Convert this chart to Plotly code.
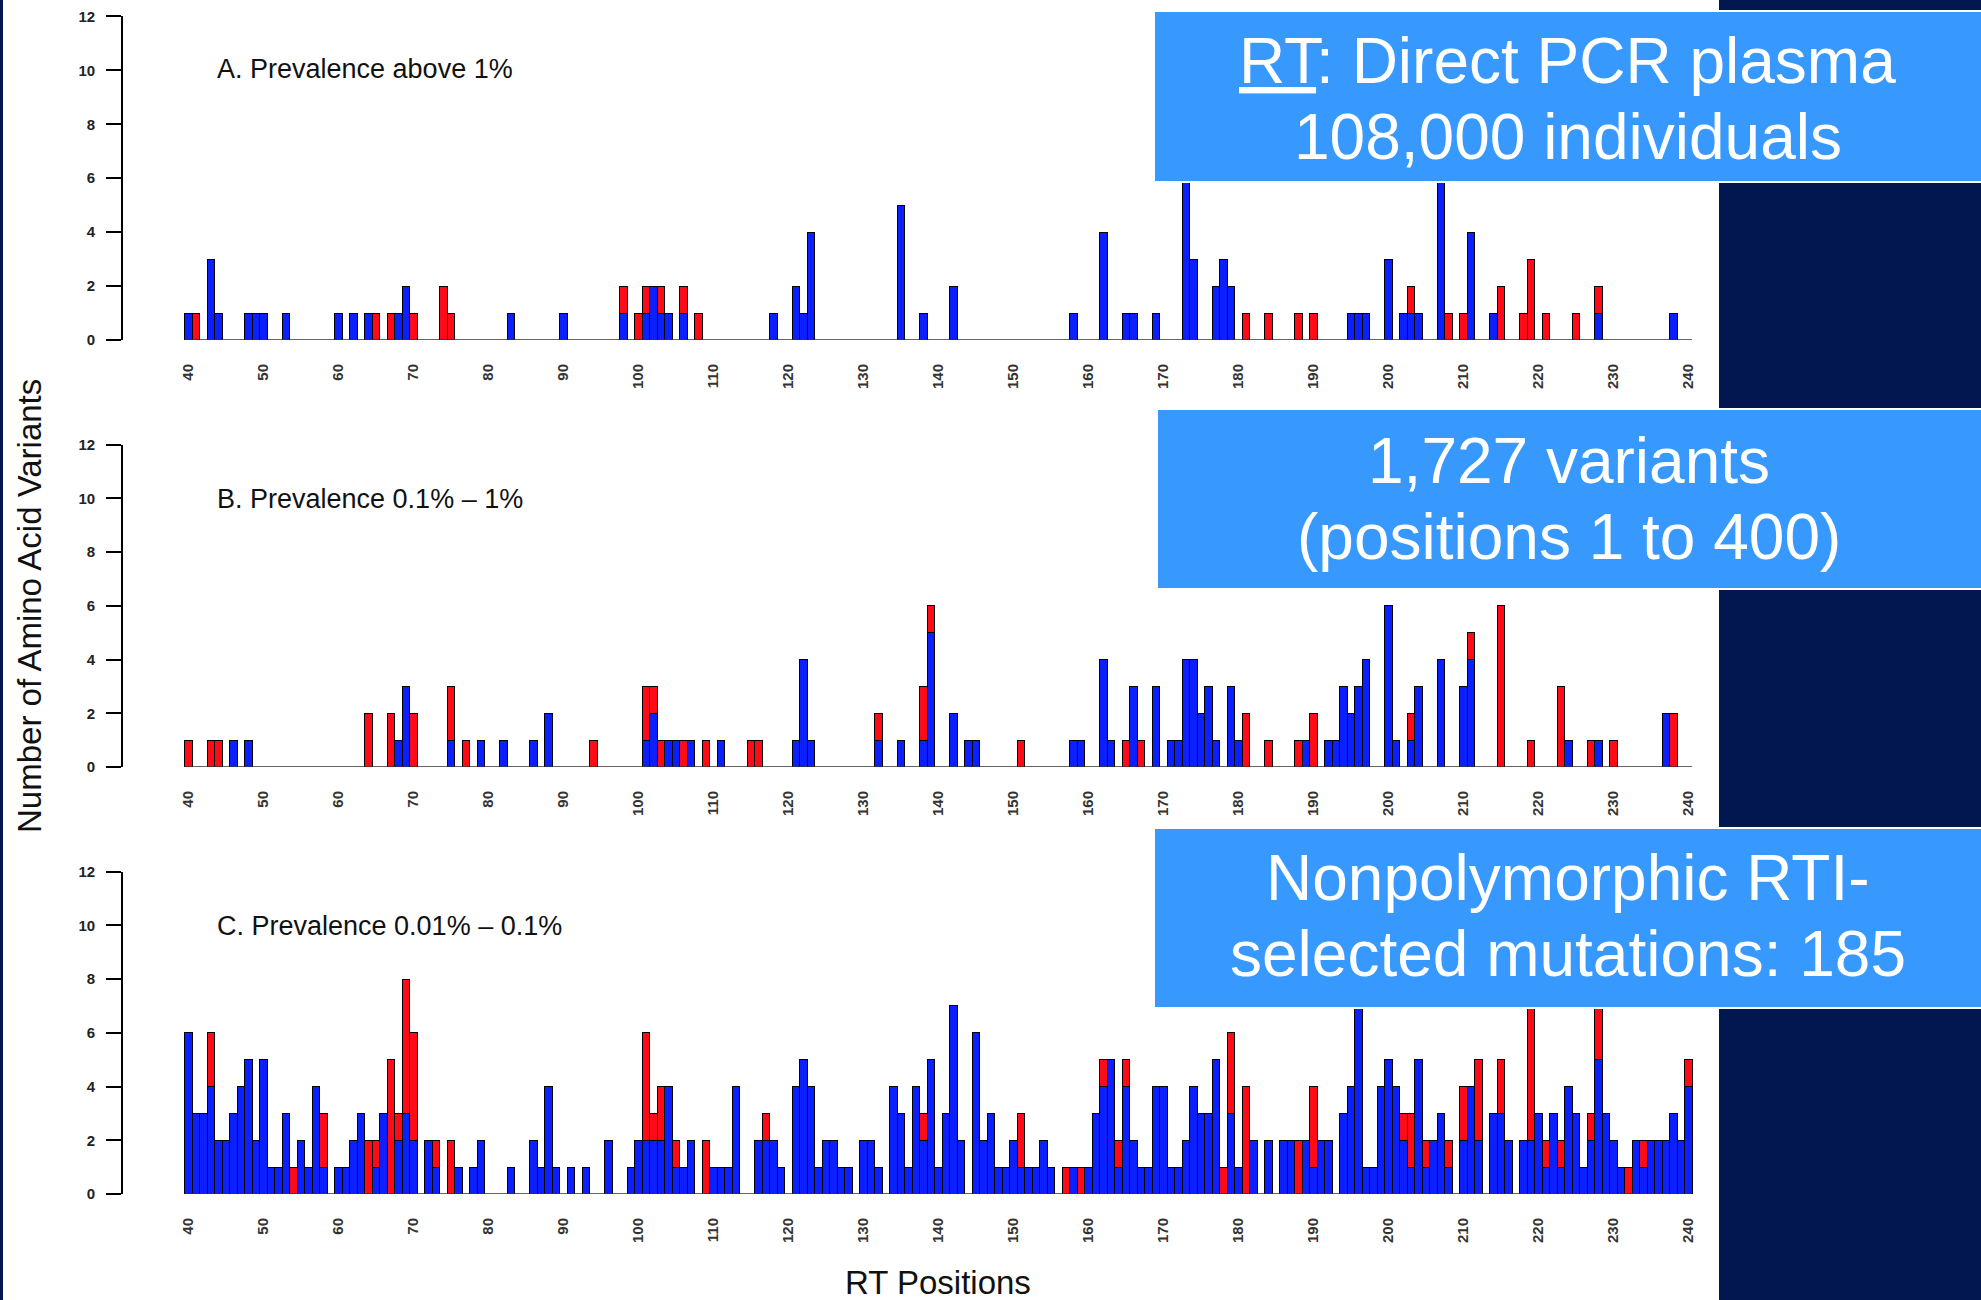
import plotly.graph_objects as go

W, H = 1981, 1300

# ---------------- data (counts of amino-acid variants per RT position) ----------------
positions_ticks = list(range(40, 241, 10))
y_ticks = [0, 2, 4, 6, 8, 10, 12]

panel_titles = ["A. Prevalence above 1%", "B. Prevalence 0.1% \u2013 1%", "C. Prevalence 0.01% \u2013 0.1%"]

A_blue = {40: 1, 43: 3, 44: 1, 48: 1, 49: 1, 50: 1, 53: 1, 60: 1, 62: 1, 64: 1, 68: 1, 69: 2,
          83: 1, 90: 1, 98: 1, 101: 1, 102: 2, 103: 1, 104: 1, 106: 1, 118: 1, 121: 2, 122: 1,
          123: 4, 135: 5, 138: 1, 142: 2, 158: 1, 162: 4, 165: 1, 166: 1, 169: 1, 173: 6, 174: 3,
          177: 2, 178: 3, 179: 2, 195: 1, 196: 1, 197: 1, 200: 3, 202: 1, 203: 1, 204: 1, 207: 6,
          211: 4, 214: 1, 228: 1, 238: 1}
A_red = {41: 1, 65: 1, 67: 1, 70: 1, 74: 2, 75: 1, 98: 1, 100: 1, 101: 1, 103: 1, 106: 1, 108: 1,
         181: 1, 184: 1, 188: 1, 190: 1, 203: 1, 208: 1, 210: 1, 215: 2, 218: 1, 219: 3, 221: 1,
         225: 1, 228: 1}

B_blue = {46: 1, 48: 1, 68: 1, 69: 3, 75: 1, 79: 1, 82: 1, 86: 1, 88: 2, 101: 1, 102: 2, 104: 1,
          105: 1, 107: 1, 111: 1, 121: 1, 122: 4, 123: 1, 132: 1, 135: 1, 138: 1, 139: 5, 142: 2,
          144: 1, 145: 1, 158: 1, 159: 1, 162: 4, 163: 1, 166: 3, 169: 3, 171: 1, 172: 1, 173: 4,
          174: 4, 175: 2, 176: 3, 177: 1, 179: 3, 180: 1, 189: 1, 192: 1, 193: 1, 194: 3, 195: 2,
          196: 3, 197: 4, 200: 6, 201: 1, 203: 1, 204: 3, 207: 4, 210: 3, 211: 4, 224: 1, 228: 1,
          237: 2}
B_red = {40: 1, 43: 1, 44: 1, 64: 2, 67: 2, 70: 2, 75: 2, 77: 1, 94: 1, 101: 2, 102: 1, 103: 1,
         106: 1, 109: 1, 115: 1, 116: 1, 132: 1, 138: 2, 139: 1, 151: 1, 165: 1, 167: 1, 181: 2,
         184: 1, 188: 1, 190: 2, 203: 1, 211: 1, 215: 6, 219: 1, 223: 3, 227: 1, 230: 1, 238: 2}

C_blue = {40: 6, 41: 3, 42: 3, 43: 4, 44: 2, 45: 2, 46: 3, 47: 4, 48: 5, 49: 2, 50: 5, 51: 1,
          52: 1, 53: 3, 55: 2, 56: 1, 57: 4, 58: 1, 60: 1, 61: 1, 62: 2, 63: 3, 65: 1, 66: 3,
          68: 2, 69: 3, 70: 2, 72: 2, 73: 1, 76: 1, 78: 1, 79: 2, 83: 1, 86: 2, 87: 1, 88: 4,
          89: 1, 91: 1, 93: 1, 96: 2, 99: 1, 100: 2, 101: 2, 102: 2, 103: 2, 104: 4, 105: 1,
          106: 1, 107: 2, 110: 1, 111: 1, 112: 1, 113: 4, 116: 2, 117: 2, 118: 2, 119: 1, 121: 4,
          122: 5, 123: 4, 124: 1, 125: 2, 126: 2, 127: 1, 128: 1, 130: 2, 131: 2, 132: 1, 134: 4,
          135: 3, 136: 1, 137: 4, 138: 2, 139: 5, 140: 1, 141: 3, 142: 7, 143: 2, 145: 6, 146: 2,
          147: 3, 148: 1, 149: 1, 150: 2, 151: 1, 152: 1, 153: 1, 154: 2, 155: 1, 158: 1, 160: 1,
          161: 3, 162: 4, 163: 5, 164: 1, 165: 4, 166: 2, 167: 1, 168: 1, 169: 4, 170: 4, 171: 1,
          172: 1, 173: 2, 174: 4, 175: 3, 176: 3, 177: 5, 179: 3, 180: 1, 182: 2, 184: 2, 186: 2,
          187: 2, 189: 2, 190: 1, 191: 2, 192: 2, 194: 3, 195: 4, 196: 7, 197: 1, 198: 1, 199: 4,
          200: 5, 201: 4, 202: 2, 203: 1, 204: 5, 205: 1, 206: 2, 207: 3, 208: 1, 210: 2, 211: 4,
          212: 2, 214: 3, 215: 3, 216: 2, 218: 2, 219: 2, 220: 3, 221: 1, 222: 3, 223: 1, 224: 4,
          225: 3, 226: 1, 227: 2, 228: 5, 229: 3, 230: 2, 231: 1, 233: 2, 234: 1, 235: 2, 236: 2,
          237: 2, 238: 3, 239: 2, 240: 4}
C_red = {43: 2, 54: 1, 58: 2, 64: 2, 65: 1, 67: 5, 68: 1, 69: 5, 70: 4, 73: 1, 75: 2, 101: 4,
         102: 1, 103: 2, 105: 1, 109: 2, 117: 1, 138: 1, 151: 2, 157: 1, 159: 1, 162: 1, 164: 1,
         165: 1, 178: 1, 179: 3, 181: 4, 188: 2, 190: 3, 202: 1, 203: 2, 205: 1, 208: 1, 210: 2,
         212: 3, 215: 2, 219: 5, 221: 1, 223: 1, 227: 1, 228: 2, 232: 1, 234: 1, 240: 1}

box_texts = [["<u>RT</u>: Direct PCR plasma", "108,000 individuals"],
             ["1,727 variants", "(positions 1 to 400)"],
             ["Nonpolymorphic RTI-", "selected mutations: 185"]]

# ---------------- layout constants (pixels) ----------------
FONT = "Liberation Sans, Arial, Helvetica, sans-serif"
BLUE = "#0b1fff"
RED = "#ff0a17"
NAVY = "#021650"
BOXBLUE = "#3799fe"

X_LEFT, X_RIGHT = 123, 1700
PX_PER_POS = 7.5
POS40_PX = 188.3
r0 = 40 - (POS40_PX - X_LEFT) / PX_PER_POS
r1 = r0 + (X_RIGHT - X_LEFT) / PX_PER_POS

panel_px = [(340, 16.4, 69.5), (767, 444.7, 499), (1194, 871.7, 926)]  # (y of 0, y of 12, title y)
box_px = [(1154, 11, 182, (61, 137)), (1157, 409, 589, (461, 537)), (1154, 828, 1008, (878, 954))]


def fx(p):
    return p / W


def fy(p):
    return 1 - p / H


fig = go.Figure()
layout = dict(width=W, height=H, margin=dict(l=0, r=0, t=0, b=0, pad=0, autoexpand=False),
              paper_bgcolor="white", plot_bgcolor="rgba(0,0,0,0)",
              barmode="stack", showlegend=False, font=dict(family=FONT, color="#111"))
shapes = []
annotations = []

series = [(A_blue, A_red), (B_blue, B_red), (C_blue, C_red)]
for i, ((blue, red), (y0, y12, ty), title) in enumerate(zip(series, panel_px, panel_titles), start=1):
    xa = "x" if i == 1 else f"x{i}"
    ya = "y" if i == 1 else f"y{i}"
    for data, col in ((blue, BLUE), (red, RED)):
        fig.add_trace(go.Bar(x=list(data.keys()), y=list(data.values()), width=1,
                             marker=dict(color=col, line=dict(color="black", width=1)),
                             xaxis=xa, yaxis=ya, hoverinfo="x+y"))
    key = "" if i == 1 else str(i)
    layout["xaxis" + key] = dict(domain=[fx(X_LEFT), fx(X_RIGHT)], range=[r0, r1], anchor=ya,
                                 tickmode="array", tickvals=positions_ticks,
                                 ticktext=["<b>%d</b>" % v for v in positions_ticks], tickangle=-90,
                                 showline=False, ticks="", showgrid=False, zeroline=False,
                                 ticklabelstandoff=20, automargin=False,
                                 tickfont=dict(size=15, color="#333", family=FONT))
    layout["yaxis" + key] = dict(domain=[fy(y0), fy(y12)], range=[0, 12], anchor=xa,
                                 tickmode="array", tickvals=y_ticks,
                                 ticktext=["<b>%d</b>" % v for v in y_ticks], showline=True,
                                 linecolor="black", linewidth=1.6, ticks="outside", ticklen=15,
                                 tickwidth=1.6, tickcolor="black", showgrid=False, zeroline=False,
                                 ticklabelstandoff=8, automargin=False,
                                 tickfont=dict(size=15, color="#222", family=FONT))
    shapes.append(dict(type="line", xref=xa, yref=ya, x0=39.5, x1=240.5, y0=0, y1=0,
                       line=dict(color="#333", width=1.6), layer="above"))
    annotations.append(dict(text=title, xref="paper", yref="paper", x=fx(215), y=fy(ty),
                            xanchor="left", yanchor="middle", showarrow=False,
                            font=dict(size=27, color="#111", family=FONT)))

# navy frame on the right and left edge
shapes.append(dict(type="rect", xref="paper", yref="paper", x0=fx(1719), x1=1, y0=0, y1=1,
                   fillcolor=NAVY, line=dict(width=0), layer="above"))
shapes.append(dict(type="rect", xref="paper", yref="paper", x0=0, x1=fx(3), y0=0, y1=1,
                   fillcolor=NAVY, line=dict(width=0), layer="above"))

for (bx0, by0, by1, (l1, l2)), lines in zip(box_px, box_texts):
    shapes.append(dict(type="rect", xref="paper", yref="paper", x0=fx(bx0), x1=fx(W + 4),
                       y0=fy(by1), y1=fy(by0), fillcolor=BOXBLUE,
                       line=dict(color="white", width=2), layer="above"))
    cx = (bx0 + W) / 2
    for txt, ly in zip(lines, (l1, l2)):
        annotations.append(dict(text=txt, xref="paper", yref="paper", x=fx(cx), y=fy(ly),
                                xanchor="center", yanchor="middle", showarrow=False,
                                font=dict(size=64, color="white", family=FONT)))

annotations.append(dict(text="Number of Amino Acid Variants", xref="paper", yref="paper",
                        x=fx(29), y=fy(606), xanchor="center", yanchor="middle", textangle=-90,
                        showarrow=False, font=dict(size=33, color="#111", family=FONT)))
annotations.append(dict(text="RT Positions", xref="paper", yref="paper",
                        x=fx(938), y=fy(1282), xanchor="center", yanchor="middle",
                        showarrow=False, font=dict(size=33, color="#111", family=FONT)))

layout["shapes"] = shapes
layout["annotations"] = annotations
fig.update_layout(**layout)
fig.write_html("out.html")
